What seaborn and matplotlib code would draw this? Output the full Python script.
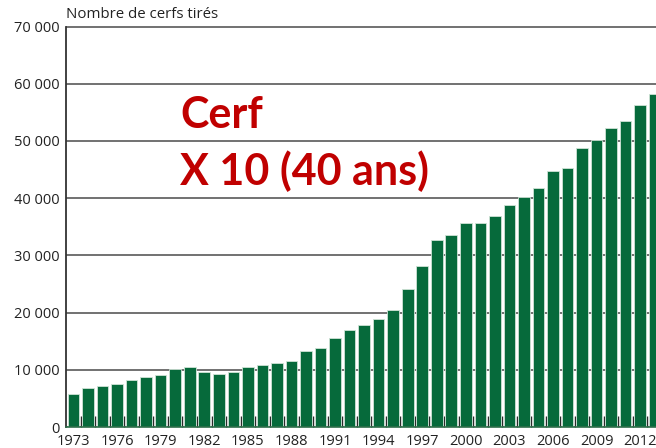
import matplotlib
matplotlib.use("Agg")
import matplotlib.pyplot as plt
import matplotlib.ticker as mticker
import numpy as np
import pandas as pd
import seaborn as sns

# Données
years = list(range(1973, 2014))
cerfs = [
    5700, 6870, 7110, 7570, 8220, 8690, 9090, 10140, 10430, 9560,
    9320, 9560, 10430, 10900, 11130, 11540, 13340, 13750, 15500, 16900,
    17780, 18880, 20400, 24170, 28200, 32630, 33500, 35710, 35710, 36880,
    38860, 40150, 41780, 44690, 45330, 48710, 50110, 52210, 53540, 56230,
    58210,
]
y_ticks = [0, 10000, 20000, 30000, 40000, 50000, 60000, 70000]
y_label = "Nombre de cerfs tirés"
annotation = ["Cerf", "X 10 (40 ans)"]

BAR_COLOR = "#066a3b"
TEXT_COLOR = "#222222"
RED = "#c00000"

sns.set_style("white")
plt.rcParams["font.family"] = ["Open Sans", "DejaVu Sans"]

df = pd.DataFrame({"annee": [str(y) for y in years], "cerfs": cerfs})

fig = plt.figure(figsize=(6.56, 4.48), dpi=100)
# axes extend past the right edge, as in the cropped original
ax = fig.add_axes([65.5 / 656, 21 / 448, 611 / 656, 400.5 / 448])

sns.barplot(
    data=df, x="annee", y="cerfs", color=BAR_COLOR, saturation=1,
    width=0.8, edgecolor="#cfe3d6", linewidth=0.6, ax=ax, zorder=2,
)

ax.set_xlim(-0.55, 41.5)
ax.set_ylim(0, 70000)
ax.set_yticks(y_ticks)
ax.yaxis.set_major_formatter(
    mticker.FuncFormatter(lambda v, _: f"{int(v):,}".replace(",", " "))
)
ax.grid(axis="y", color="#4a4a4a", linewidth=1.1, zorder=0)
ax.set_axisbelow(True)

pos = np.arange(len(years))
ax.set_xticks(pos[::3])
ax.set_xticklabels([str(y) for y in years[::3]])
ax.set_xticks(pos[:-1] + 0.5, minor=True)
ax.tick_params(axis="x", which="major", length=0, pad=5,
               labelsize=10.5, labelcolor=TEXT_COLOR)
ax.tick_params(axis="x", which="minor", direction="in", length=8,
               width=1.0, color="#2a2a2a", bottom=True)
ax.tick_params(axis="y", length=0, pad=4, labelsize=10.5,
               labelcolor=TEXT_COLOR)
ax.set_xlabel("")
ax.set_ylabel("")

for side in ["top", "right"]:
    ax.spines[side].set_visible(False)
ax.spines["left"].set_color("#333333")
ax.spines["left"].set_linewidth(1.3)
ax.spines["bottom"].set_color("#2f6e4a")
ax.spines["bottom"].set_linewidth(1.2)

fig.text(65.5 / 656, 1 - 15 / 448, y_label, fontsize=10.8,
         color=TEXT_COLOR, va="center", ha="left")

fig.text(180 / 656, 1 - 115 / 448, annotation[0], fontsize=31,
         fontweight="bold", color=RED, va="center", ha="left",
         family=["Lato", "DejaVu Sans"])
fig.text(180 / 656, 1 - 171 / 448, annotation[1], fontsize=31,
         fontweight="bold", color=RED, va="center", ha="left",
         family=["Lato", "DejaVu Sans"])

fig.savefig("out.png", dpi=100)
